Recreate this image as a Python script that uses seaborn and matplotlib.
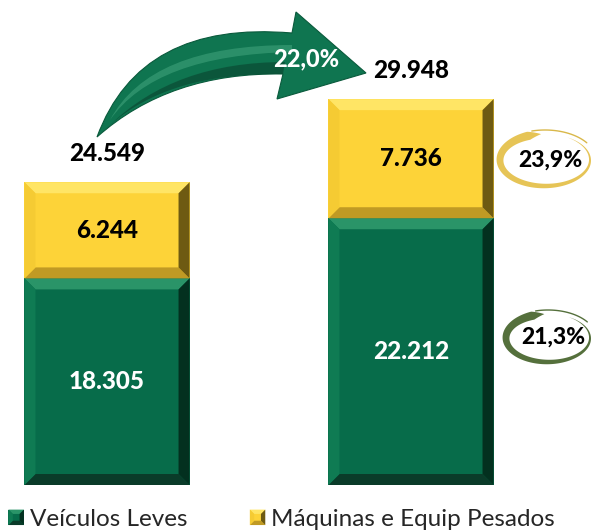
import numpy as np
import pandas as pd
import matplotlib
matplotlib.use("Agg")
import matplotlib.pyplot as plt
import seaborn as sns
from matplotlib.patches import Polygon, Rectangle, Patch
from matplotlib.path import Path
from matplotlib.patches import PathPatch
from matplotlib.legend_handler import HandlerBase

# dados
periodos = ["Anterior", "Atual"]
leves = [18305, 22212]
maquinas = [6244, 7736]
var_total = "22,0%"
var_maquinas = "23,9%"
var_leves = "21,3%"
series = ["Veículos Leves", "Máquinas e Equip Pesados"]

totais = [a + b for a, b in zip(leves, maquinas)]

def fmt(v):
    return f"{v:,}".replace(",", ".")

sns.set_theme(style="white")
plt.rcParams["font.family"] = ["Lato", "DejaVu Sans"]
PESO = 900

verde = "#076C4A"
amarelo = "#FDD338"
bevel_verde = {"top": "#2A9468", "left": "#0F7B53", "right": "#03301F", "bottom": "#0A3B29"}
bevel_amarelo = {"top": "#FFE565", "left": "#F5CB33", "right": "#6E5A12", "bottom": "#C09A24"}

W, H = 594, 530
fig = plt.figure(figsize=(W / 100, H / 100), dpi=100)
ax = fig.add_axes([0, 45 / H, 1, 485 / H])

df = pd.DataFrame({"periodo": periodos, "total": totais, "leves": leves})
sns.barplot(data=df, x="periodo", y="total", color=amarelo, saturation=1,
            width=0.543, linewidth=0, ax=ax)
sns.barplot(data=df, x="periodo", y="leves", color=verde, saturation=1,
            width=0.543, linewidth=0, ax=ax)

ax.set_xlim(-0.352, 1.602)
ax.set_ylim(4890, 36384)
ax.axis("off")

# bevel em unidades de dados (~11 px)
x0l, x1l = ax.get_xlim()
y0l, y1l = ax.get_ylim()
bx = 11 * (x1l - x0l) / W
by = 11 * (y1l - y0l) / 485

def bevel(xa, xb, ya, yb, cores):
    polys = {
        "top": [(xa, yb), (xb, yb), (xb - bx, yb - by), (xa + bx, yb - by)],
        "bottom": [(xa, ya), (xb, ya), (xb - bx, ya + by), (xa + bx, ya + by)],
        "left": [(xa, ya), (xa, yb), (xa + bx, yb - by), (xa + bx, ya + by)],
        "right": [(xb, ya), (xb, yb), (xb - bx, yb - by), (xb - bx, ya + by)],
    }
    for k, pts in polys.items():
        ax.add_patch(Polygon(pts, closed=True, facecolor=cores[k], edgecolor="none", zorder=3))

barras = ax.patches[:len(periodos)]
for i, p in enumerate(barras):
    xa = p.get_x()
    xb = xa + p.get_width()
    xc = xa + p.get_width() / 2
    bevel(xa, xb, y0l, leves[i], bevel_verde)
    bevel(xa, xb, leves[i], totais[i], bevel_amarelo)
    ax.text(xc, (y0l + leves[i]) / 2, fmt(leves[i]), ha="center", va="center",
            color="white", fontsize=17.5, fontweight=PESO, zorder=5)
    ax.text(xc, (leves[i] + totais[i]) / 2, fmt(maquinas[i]), ha="center", va="center",
            color="black", fontsize=17.5, fontweight=PESO, zorder=5)
    ax.annotate(fmt(totais[i]), (xc, totais[i]), xytext=(0, 29), textcoords="offset pixels",
                ha="center", va="center", color="black", fontsize=17.5, fontweight=PESO)

# seta curva (pixels da figura -> fração)
def f(x, y):
    return (x / W, 1 - y / H)

verts = [f(97, 137), f(140, 20), f(292, 33),
         f(296, 12), f(366, 73), f(277, 99), f(283, 74),
         f(170, 72), f(97, 137), f(97, 137)]
codes = [Path.MOVETO, Path.CURVE3, Path.CURVE3,
         Path.LINETO, Path.LINETO, Path.LINETO, Path.LINETO,
         Path.CURVE3, Path.CURVE3, Path.CLOSEPOLY]
fig.patches.append(PathPatch(Path(verts, codes), transform=fig.transFigure,
                             facecolor="#0F7550", edgecolor="#0A5A3C", lw=0.8))
# sombra inferior da seta
verts3 = [f(110, 125), f(175, 62), f(285, 62),
          f(283, 74), f(170, 72), f(110, 125), f(110, 125)]
codes3 = [Path.MOVETO, Path.CURVE3, Path.CURVE3,
          Path.LINETO, Path.CURVE3, Path.CURVE3, Path.CLOSEPOLY]
fig.patches.append(PathPatch(Path(verts3, codes3), transform=fig.transFigure,
                             facecolor="#0A4A33", edgecolor="none", alpha=0.7))
# brilho na seta
verts2 = [f(110, 120), f(150, 45), f(292, 45),
          f(292, 52), f(155, 55), f(110, 120), f(110, 120)]
codes2 = [Path.MOVETO, Path.CURVE3, Path.CURVE3,
          Path.LINETO, Path.CURVE3, Path.CURVE3, Path.CLOSEPOLY]
fig.patches.append(PathPatch(Path(verts2, codes2), transform=fig.transFigure,
                             facecolor="#3FA27A", edgecolor="none", alpha=0.6))
fig.text(306 / W, 1 - 59 / H, var_total, color="white", fontsize=17, fontweight=PESO,
         ha="center", va="center")

# aneis com variação
def anel(cx, cy, rx, ry, wmax, cor, cor_cauda):
    th0, th1 = np.deg2rad(95), np.deg2rad(420)
    t = np.linspace(th0, th1, 200)
    frac = (t - th0) / (th1 - th0)
    w = wmax * np.minimum(1, frac / 0.05) * (1 - frac) ** 0.9
    outer = [f(cx + (rx + w_ / 2) * np.cos(a), cy - (ry + w_ / 2) * np.sin(a)) for a, w_ in zip(t, w)]
    inner = [f(cx + (rx - w_ / 2) * np.cos(a), cy - (ry - w_ / 2) * np.sin(a)) for a, w_ in zip(t, w)]
    fig.patches.append(Polygon(outer + inner[::-1], closed=True, transform=fig.transFigure,
                               facecolor=cor, edgecolor="none"))
    tt = np.linspace(np.deg2rad(105), np.deg2rad(35), 50)
    fig.lines.append(plt.Line2D([f(cx + (rx + 6) * np.cos(a), 0)[0] for a in tt],
                                [f(0, cy - (ry + 4) * np.sin(a))[1] for a in tt],
                                transform=fig.transFigure, color=cor_cauda, lw=1))

anel(545, 160, 45, 26, 9, "#E6C456", "#D9B84A")
anel(548, 338, 42, 24, 9, "#55703C", "#55703C")
fig.text(550 / W, 1 - 160 / H, var_maquinas, color="black", fontsize=16.5, fontweight=PESO,
         ha="center", va="center")
fig.text(553 / W, 1 - 337 / H, var_leves, color="black", fontsize=16.5, fontweight=PESO,
         ha="center", va="center")

# legenda com marcadores chanfrados
class HandlerBevel(HandlerBase):
    def __init__(self, face, cores):
        super().__init__()
        self.face = face
        self.cores = cores

    def create_artists(self, legend, orig_handle, xdescent, ydescent, width, height, fontsize, trans):
        s = height * 1.0
        xa = -xdescent + (width - s) / 2
        ya = -ydescent + (height - s) / 2
        xb, yb = xa + s, ya + s
        b = s * 0.28
        arts = [Rectangle((xa, ya), s, s, facecolor=self.face, edgecolor="none", transform=trans)]
        pts = {
            "top": [(xa, yb), (xb, yb), (xb - b, yb - b), (xa + b, yb - b)],
            "bottom": [(xa, ya), (xb, ya), (xb - b, ya + b), (xa + b, ya + b)],
            "left": [(xa, ya), (xa, yb), (xa + b, yb - b), (xa + b, ya + b)],
            "right": [(xb, ya), (xb, yb), (xb - b, yb - b), (xb - b, ya + b)],
        }
        for k, v in pts.items():
            arts.append(Polygon(v, closed=True, facecolor=self.cores[k], edgecolor="none", transform=trans))
        return arts

h1 = Patch(facecolor=verde, label=series[0])
h2 = Patch(facecolor=amarelo, label=series[1])
fig.legend(handles=[h1, h2], handler_map={h1: HandlerBevel(verde, bevel_verde),
                                         h2: HandlerBevel(amarelo, bevel_amarelo)},
           loc="center left", bbox_to_anchor=(0.015, 0.02), ncol=2, frameon=False,
           fontsize=17.5, handlelength=0.6, handleheight=0.6, handletextpad=0.25,
           columnspacing=2.6, borderpad=0, borderaxespad=0)

fig.savefig("out.png", dpi=100)
